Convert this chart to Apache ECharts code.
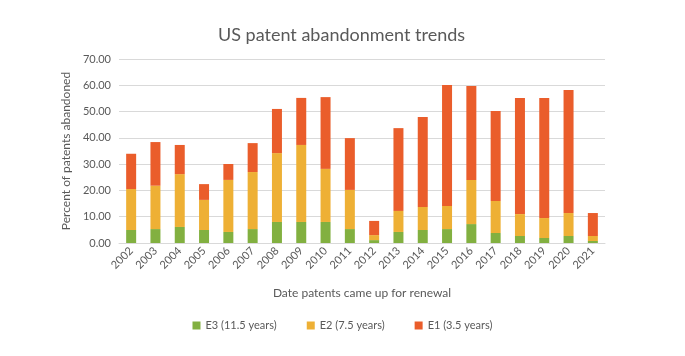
<!DOCTYPE html>
<html><head><meta charset="utf-8">
<script src="https://cdn.jsdelivr.net/npm/echarts@6/dist/echarts.min.js"></script>
<style>html,body{margin:0;padding:0;background:#fff}#c{width:685px;height:356px}</style>
</head><body><div id="c"></div>
<script>
var years = ['2002','2003','2004','2005','2006','2007','2008','2009','2010','2011','2012','2013','2014','2015','2016','2017','2018','2019','2020','2021'];
var e3 = [4.95,5.3,6.1,4.95,4.2,5.3,8.0,8.0,8.0,5.3,1.1,4.2,4.95,5.3,7.2,3.8,2.66,1.9,2.66,0.76];
var e2 = [15.6,16.5,20.1,11.45,19.8,21.7,26.2,29.3,20.2,14.9,1.9,8.0,8.75,8.8,16.8,12.2,8.34,7.6,8.74,1.9];
var e1 = [13.4,16.6,11.1,6.0,6.05,11.0,16.8,17.9,27.3,19.7,5.4,31.5,34.2,46.0,35.7,34.2,44.2,45.7,46.8,8.74];
var font = 'Lato';
var chart = echarts.init(document.getElementById('c'));
chart.setOption({
  animation: false,
  textStyle: {fontFamily: font},
  title: {text: 'US patent abandonment trends', left: 213, top: 21,
    textStyle: {fontFamily: font, fontSize: 18, fontWeight: 'normal', color: '#595959'}},
  grid: {left: 119, right: 80, top: 59, bottom: 113},
  legend: {bottom: 20, left: 'center', itemWidth: 8, itemHeight: 8, itemGap: 30, icon: 'rect',
    textStyle: {fontFamily: font, fontSize: 11, color: '#595959'}},
  xAxis: {type: 'category', data: years,
    name: 'Date patents came up for renewal', nameLocation: 'middle', nameGap: 44,
    nameTextStyle: {fontFamily: font, fontSize: 12, color: '#595959'},
    axisLine: {lineStyle: {color: '#d9d9d9'}}, axisTick: {show: false},
    axisLabel: {rotate: 45, interval: 0, fontSize: 11, color: '#595959', margin: 6}},
  yAxis: {type: 'value', min: 0, max: 70, interval: 10,
    name: 'Percent of patents abandoned', nameLocation: 'middle', nameGap: 42,
    nameTextStyle: {fontFamily: font, fontSize: 12, color: '#595959'},
    axisLine: {show: false}, axisTick: {show: false},
    axisLabel: {fontSize: 11, color: '#595959', formatter: function(v){return v.toFixed(2);}},
    splitLine: {lineStyle: {color: '#d9d9d9'}}},
  series: [
    {name: 'E3 (11.5 years)', type: 'bar', stack: 't', data: e3, barWidth: 10, itemStyle: {color: '#82B040'}},
    {name: 'E2 (7.5 years)', type: 'bar', stack: 't', data: e2, barWidth: 10, itemStyle: {color: '#EEB035'}},
    {name: 'E1 (3.5 years)', type: 'bar', stack: 't', data: e1, barWidth: 10, itemStyle: {color: '#EA5D2B'}}
  ]
});
</script></body></html>
